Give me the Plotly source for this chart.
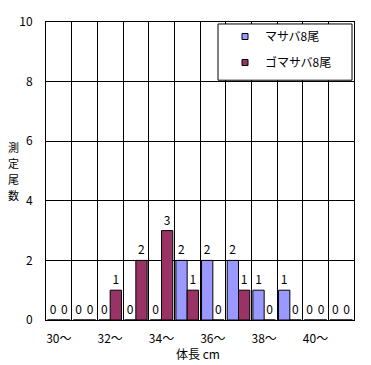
import plotly.graph_objects as go

categories = [30, 31, 32, 33, 34, 35, 36, 37, 38, 39, 40, 41]
masaba = [0, 0, 0, 0, 0, 2, 2, 2, 1, 1, 0, 0]
gomasaba = [0, 0, 1, 2, 3, 1, 0, 1, 0, 0, 0, 0]
series_names = ["マサバ8尾", "ゴマサバ8尾"]
tick_vals = [30, 32, 34, 36, 38, 40]
tick_text = ["30〜", "32〜", "34〜", "36〜", "38〜", "40〜"]
y_title = "測定尾数"
x_title = "体長 cm"

colors = ["#9999FF", "#993366"]
FONT = "Noto Sans CJK JP"
W, H = 371, 365
ML, MR, MT, MB = 46, 17, 18, 45
PW, PH = W - ML - MR, H - MT - MB


def px_x(x):
    return (x - ML) / PW


def px_y(y):
    return (H - MB - y) / PH


fig = go.Figure()
for vals, name, col in zip([masaba, gomasaba], series_names, colors):
    fig.add_trace(go.Bar(
        x=categories, y=vals, name=name, showlegend=False,
        marker=dict(color=col, line=dict(color="black", width=1)),
        text=[str(v) for v in vals], textposition="outside",
        textfont=dict(size=12, color="black", family=FONT),
        cliponaxis=False,
    ))
for i, (name, col) in enumerate(zip(series_names, colors)):
    fig.add_trace(go.Scatter(
        x=[None], y=[None], mode="markers", name=name, legendgroup=f"g{i}",
        marker=dict(symbol="square", size=6, color=col, line=dict(color="black", width=1)),
    ))

# legend frame
fig.add_shape(type="rect", xref="paper", yref="paper",
              x0=px_x(218), x1=px_x(352), y0=px_y(77), y1=px_y(20),
              line=dict(color="black", width=1), fillcolor="white", layer="above")

fig.update_layout(
    width=W, height=H,
    margin=dict(l=ML, r=MR, t=MT, b=MB),
    paper_bgcolor="white", plot_bgcolor="white",
    font=dict(family=FONT, size=12, color="black"),
    barmode="group", bargap=0.12, bargroupgap=0,
    legend=dict(x=px_x(225), y=px_y(18), xanchor="left", yanchor="top",
                borderwidth=0, bgcolor="rgba(0,0,0,0)",
                traceorder="grouped", tracegroupgap=7,
                font=dict(size=12, family=FONT), itemwidth=30),
    showlegend=True,
)
fig.update_xaxes(
    range=[29.5, 41.5], tickmode="array", tickvals=tick_vals, ticktext=tick_text,
    showgrid=False, showline=True, mirror=True, linecolor="black", linewidth=1,
    ticks="", ticklabelstandoff=8, zeroline=False,
    minor=dict(tickmode="linear", tick0=29.5, dtick=1, showgrid=True,
               gridcolor="black", gridwidth=1, ticks=""),
)
fig.update_yaxes(
    range=[0, 10], dtick=2, showgrid=True, gridcolor="black", gridwidth=1,
    showline=True, mirror=True, linecolor="black", linewidth=1,
    ticks="", ticklabelstandoff=10, zeroline=False,
)
for k, ch in enumerate(y_title):
    fig.add_annotation(text=ch, xref="paper", yref="paper",
                       x=px_x(13), y=px_y(145 + 16 * k), xanchor="center", yanchor="middle",
                       showarrow=False, font=dict(size=11, family=FONT))
fig.add_annotation(text=x_title, xref="paper", yref="paper",
                   x=px_x(198), y=px_y(354), xanchor="center", yanchor="middle",
                   showarrow=False, font=dict(size=12, family=FONT))

fig.write_html("out.html", config={"displayModeBar": False},
               post_script="document.body.style.margin='0';")
